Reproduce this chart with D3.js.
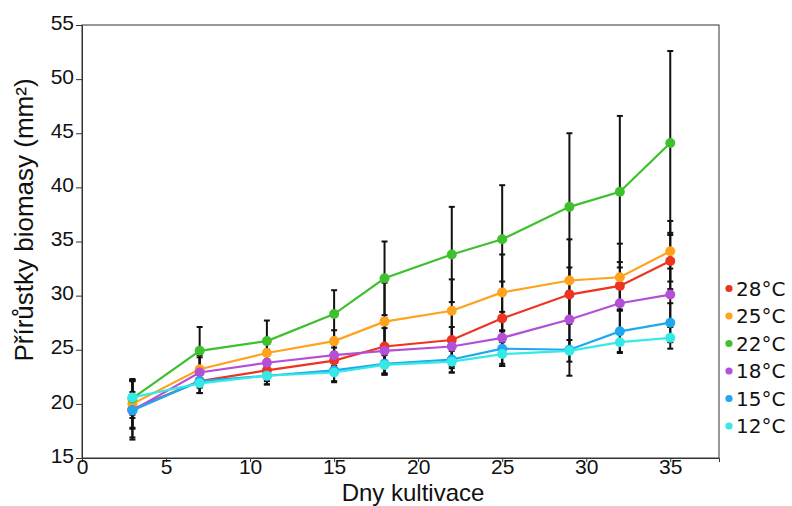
<!DOCTYPE html>
<html>
<head>
<meta charset="utf-8">
<script src="https://cdn.jsdelivr.net/npm/d3@7"></script>
<style>
  html, body { margin: 0; padding: 0; background: #fff; }
  svg { display: block; }
  text { font-family: "Liberation Sans", Arial, sans-serif; fill: #111; }
</style>
</head>
<body>
<svg id="chart" width="792" height="506"></svg>
<script>
// Days of cultivation
const days = [3, 7, 11, 15, 18, 22, 25, 29, 32, 35];

// Mean biomass increment (mm²) per temperature
const t28 = [19.5, 22.1, 23.1, 24.0, 25.3, 25.9, 27.9, 30.1, 30.9, 33.2];
const t25 = [20.0, 23.2, 24.7, 25.8, 27.6, 28.6, 30.3, 31.4, 31.7, 34.1];
const t22 = [20.5, 24.9, 25.8, 28.3, 31.6, 33.8, 35.2, 38.2, 39.6, 44.1];
const t18 = [19.4, 22.9, 23.8, 24.5, 24.9, 25.3, 26.1, 27.8, 29.3, 30.1];
const t15 = [19.4, 22.1, 22.6, 23.1, 23.7, 24.1, 25.1, 25.0, 26.7, 27.5];
const t12 = [20.6, 21.9, 22.6, 22.9, 23.6, 23.9, 24.6, 24.9, 25.7, 26.1];

// Standard deviations per temperature
const e28 = [2.6, 1.1, 1.0, 1.2, 2.6, 2.6, 3.4, 2.5, 2.2, 2.6];
const e25 = [2.2, 1.3, 1.2, 1.0, 3.6, 2.9, 3.5, 3.8, 3.1, 2.8];
const e22 = [1.8, 2.2, 1.9, 2.2, 3.4, 4.4, 5.0, 6.8, 7.0, 8.5];
const e18 = [2.7, 1.4, 1.2, 1.0, 2.1, 1.8, 2.4, 2.6, 2.4, 2.4];
const e15 = [1.7, 1.1, 0.8, 1.0, 0.9, 1.2, 1.6, 2.4, 2.0, 1.8];
const e12 = [1.6, 0.9, 0.8, 0.9, 0.9, 1.0, 1.1, 1.0, 0.9, 1.0];

const seriesNames = ["28°C", "25°C", "22°C", "18°C", "15°C", "12°C"];
const seriesValues = [t28, t25, t22, t18, t15, t12];
const seriesErrors = [e28, e25, e22, e18, e15, e12];
const seriesColors = ["#ec3420", "#ffa21c", "#3ec02f", "#b44fd8", "#1fa8ee", "#35e9e6"];

const xTicks = [0, 5, 10, 15, 20, 25, 30, 35];
const yTicks = [15, 20, 25, 30, 35, 40, 45, 50, 55];

const svg = d3.select("#chart");
const plotL = 82, plotR = 719, plotT = 25, plotB = 458;

const x = d3.scaleLinear().domain([0, 37.9]).range([plotL, plotR]);
const y = d3.scaleLinear().domain([15, 55]).range([plotB, plotT]);

// plot frame
svg.append("rect")
  .attr("x", plotL).attr("y", plotT)
  .attr("width", plotR - plotL).attr("height", plotB - plotT)
  .attr("fill", "none").attr("stroke", "#333").attr("stroke-width", 1);

// axes
const yAxis = svg.append("g")
  .attr("transform", `translate(${plotL},0)`)
  .call(d3.axisLeft(y).tickValues(yTicks).tickSize(6).tickPadding(2));
yAxis.select(".domain").attr("stroke", "#333");
yAxis.selectAll(".tick line").attr("stroke", "#333");
yAxis.selectAll(".tick text")
  .style("font-size", "21px").attr("fill", "#111")
  .attr("dy", "0.2em");

const xAxis = svg.append("g")
  .attr("transform", `translate(0,${plotB})`)
  .call(d3.axisBottom(x).tickValues(xTicks).tickSize(4).tickPadding(0));
xAxis.select(".domain").attr("stroke", "#333");
xAxis.selectAll(".tick line").attr("stroke", "#333");
xAxis.selectAll(".tick text")
  .style("font-size", "21px").attr("fill", "#111")
  .attr("dy", "0.58em");

// axis titles
svg.append("text")
  .attr("x", 413).attr("y", 500.5)
  .attr("text-anchor", "middle")
  .style("font-size", "24px")
  .text("Dny kultivace");

svg.append("text")
  .attr("transform", "translate(33,220) rotate(-90)")
  .attr("text-anchor", "middle")
  .style("font-size", "26px")
  .text("Přírůstky biomasy (mm²)");

// error bars, drawn underneath the lines
const errG = svg.append("g");
seriesValues.forEach((vals, si) => {
  const errs = seriesErrors[si];
  days.forEach((d, i) => {
    const cx = x(d);
    const y1 = y(vals[i] + errs[i]);
    const y2 = y(vals[i] - errs[i]);
    errG.append("line")
      .attr("x1", cx).attr("x2", cx).attr("y1", y1).attr("y2", y2)
      .attr("stroke", "#111").attr("stroke-width", 2);
    [y1, y2].forEach(yy => {
      errG.append("line")
        .attr("x1", cx - 3).attr("x2", cx + 3).attr("y1", yy).attr("y2", yy)
        .attr("stroke", "#111").attr("stroke-width", 2);
    });
  });
});

// lines and markers
const line = d3.line().x((d, i) => x(days[i])).y(d => y(d));
seriesValues.forEach((vals, si) => {
  const g = svg.append("g");
  g.append("path")
    .attr("d", line(vals))
    .attr("fill", "none")
    .attr("stroke", seriesColors[si])
    .attr("stroke-width", 2.2);
  g.selectAll("circle")
    .data(vals)
    .join("circle")
    .attr("cx", (d, i) => x(days[i]))
    .attr("cy", d => y(d))
    .attr("r", 5)
    .attr("fill", seriesColors[si]);
});

// legend
const legend = svg.append("g");
seriesNames.forEach((name, si) => {
  const ly = 288.5 + si * 27.5;
  legend.append("circle")
    .attr("cx", 729).attr("cy", ly).attr("r", 3.6)
    .attr("fill", seriesColors[si]);
  legend.append("text")
    .attr("x", 736).attr("y", ly)
    .attr("dy", "0.36em")
    .style("font-family", "'DejaVu Sans', Verdana, sans-serif")
    .style("font-size", "20px")
    .text(name);
});
</script>
</body>
</html>
